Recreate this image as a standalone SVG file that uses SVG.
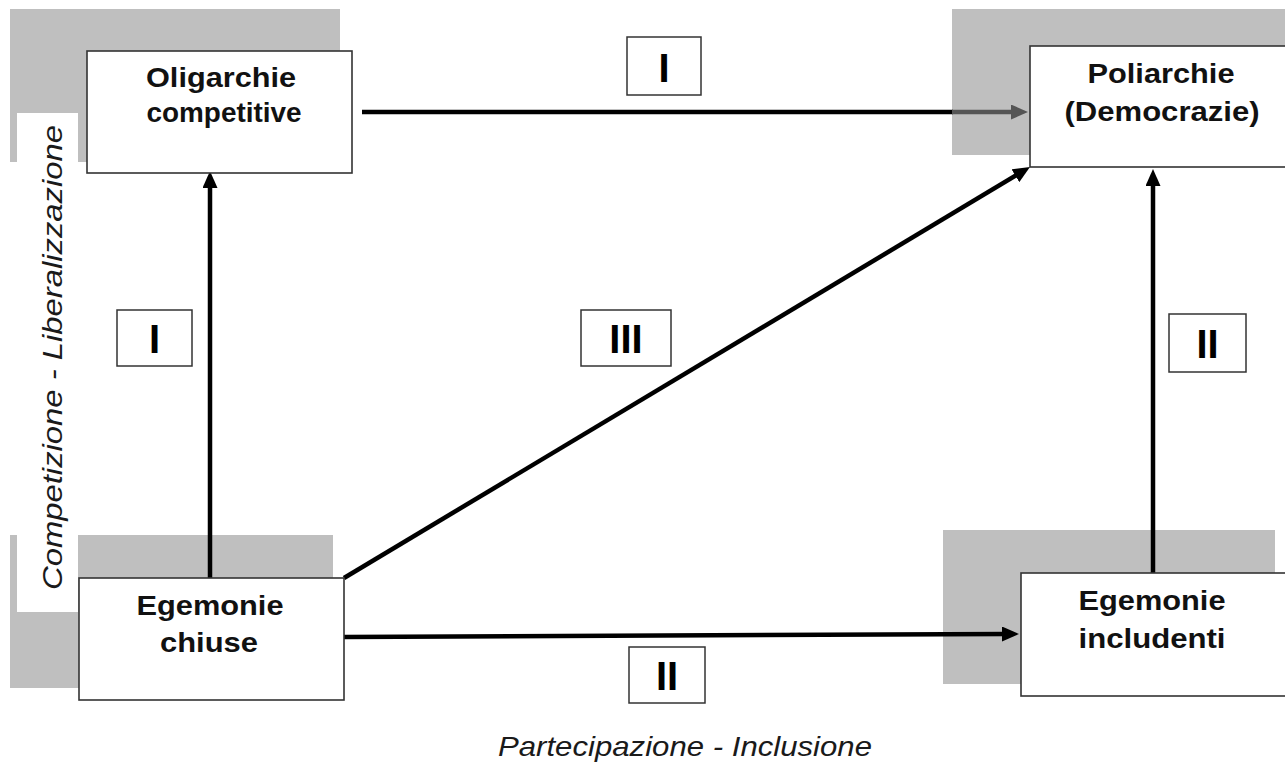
<svg xmlns="http://www.w3.org/2000/svg" width="1285" height="762" viewBox="0 0 1285 762">
<defs>
<style>
.bg{fill:#bfbfbf}
.node{fill:#fff;stroke:#333;stroke-width:1.6}
.lbl{font-family:"Liberation Sans",Arial,sans-serif;font-weight:bold;font-size:27px;fill:#111;text-anchor:middle}
.num{fill:#fff;stroke:#333;stroke-width:1.5}
.numt{font-family:"Liberation Sans",Arial,sans-serif;font-weight:bold;font-size:40px;fill:#000;text-anchor:middle}
.axis{font-family:"Liberation Sans",Arial,sans-serif;font-style:italic;font-size:28px;fill:#1a1a1a}
.conn{stroke:#000;stroke-width:4.5;fill:none}
</style>
<marker id="ah" markerUnits="userSpaceOnUse" markerWidth="17" markerHeight="15" viewBox="0 0 17 15" refX="5" refY="7.5" orient="auto">
<path d="M0,0 L17,7.5 L0,15 z" fill="#000"/>
</marker>
<marker id="ahg" markerUnits="userSpaceOnUse" markerWidth="17" markerHeight="15" viewBox="0 0 17 15" refX="5" refY="7.5" orient="auto">
<path d="M0,0 L17,7.5 L0,15 z" fill="#555"/>
</marker>
</defs>
<rect width="1285" height="762" fill="#fff"/>

<g id="backgrounds">
<rect class="bg" x="10" y="9" width="330" height="153"/>
<rect class="bg" x="10" y="535" width="323" height="153"/>
<rect class="bg" x="952" y="9" width="333" height="146"/>
<rect class="bg" x="943" y="530" width="332" height="154"/>
<rect x="17" y="113" width="61" height="499" fill="#fff"/>
</g>

<g id="axis-labels">
<text class="axis" x="498" y="756" textLength="374" lengthAdjust="spacingAndGlyphs">Partecipazione - Inclusione</text>
<text class="axis" transform="translate(62,590) rotate(-90)" x="0" y="0" textLength="465" lengthAdjust="spacingAndGlyphs">Competizione - Liberalizzazione</text>
</g>

<g id="connectors">
<line class="conn" x1="210" y1="578" x2="210" y2="183" marker-end="url(#ah)"/>
<line class="conn" x1="362" y1="112" x2="953" y2="112"/>
<line class="conn" x1="952" y1="112" x2="1016" y2="112" style="stroke:#555" marker-end="url(#ahg)"/>
<line class="conn" x1="344" y1="578" x2="1019.7" y2="173.2" marker-end="url(#ah)"/>
<line class="conn" x1="1153" y1="580" x2="1153" y2="181" marker-end="url(#ah)"/>
<line class="conn" x1="344" y1="637" x2="1007" y2="634" marker-end="url(#ah)"/>
</g>

<g id="node-oligarchie">
<rect class="node" x="87" y="51" width="265" height="122"/>
<text class="lbl" x="221" y="87" textLength="150" lengthAdjust="spacingAndGlyphs">Oligarchie</text>
<text class="lbl" x="224" y="122" textLength="155" lengthAdjust="spacingAndGlyphs">competitive</text>
</g>

<g id="node-poliarchie">
<rect class="node" x="1030" y="46" width="262" height="121"/>
<text class="lbl" x="1161" y="83" textLength="147" lengthAdjust="spacingAndGlyphs">Poliarchie</text>
<text class="lbl" x="1162" y="121" textLength="195" lengthAdjust="spacingAndGlyphs">(Democrazie)</text>
</g>

<g id="node-egemonie-chiuse">
<rect class="node" x="79" y="578" width="265" height="122"/>
<text class="lbl" x="210" y="615" textLength="147" lengthAdjust="spacingAndGlyphs">Egemonie</text>
<text class="lbl" x="209" y="652" textLength="98" lengthAdjust="spacingAndGlyphs">chiuse</text>
</g>

<g id="node-egemonie-includenti">
<rect class="node" x="1021" y="573" width="271" height="123"/>
<text class="lbl" x="1152" y="610" textLength="147" lengthAdjust="spacingAndGlyphs">Egemonie</text>
<text class="lbl" x="1152" y="648" textLength="147" lengthAdjust="spacingAndGlyphs">includenti</text>
</g>

<g id="label-top-I">
<rect class="num" x="627" y="37" width="74" height="58"/>
<text class="numt" x="664" y="82">I</text>
</g>
<g id="label-left-I">
<rect class="num" x="117" y="310" width="75" height="56"/>
<text class="numt" x="154.5" y="353">I</text>
</g>
<g id="label-III">
<rect class="num" x="581" y="310" width="90" height="56"/>
<text class="numt" x="626" y="353">III</text>
</g>
<g id="label-right-II">
<rect class="num" x="1169" y="314" width="77" height="58"/>
<text class="numt" x="1207.5" y="358">II</text>
</g>
<g id="label-bottom-II">
<rect class="num" x="629" y="647" width="76" height="56"/>
<text class="numt" x="667" y="690">II</text>
</g>
</svg>
